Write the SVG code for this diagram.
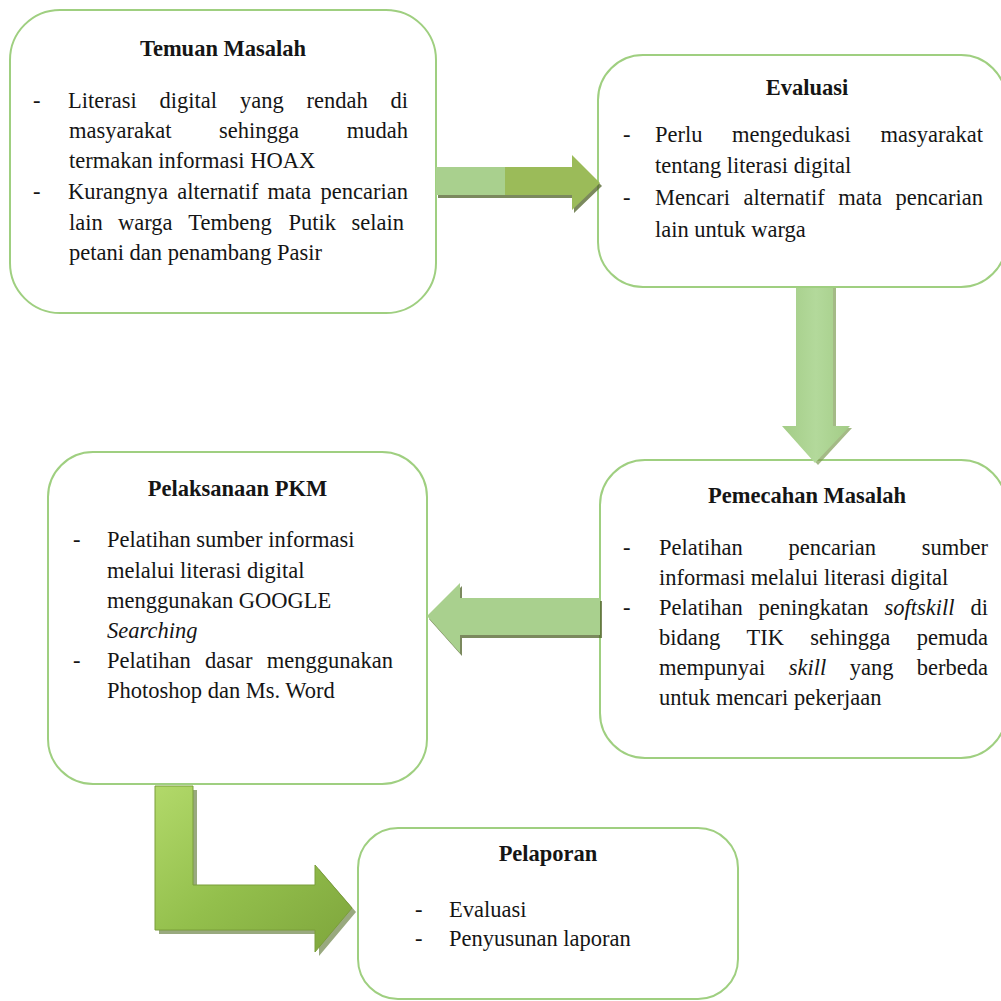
<svg xmlns="http://www.w3.org/2000/svg" width="1001" height="1001" viewBox="0 0 1001 1001">
<defs>
<style>
.box{fill:#fff;stroke:#9fcf80;stroke-width:2}
.t{font-family:'Liberation Serif','Times New Roman',Tinos,'DejaVu Serif',serif;font-size:22.5px;fill:#151515}
.b{font-weight:bold}
.i{font-style:italic}
.m{text-anchor:middle}
.e{text-anchor:end}
.sh{fill:#4f6228;opacity:.75}
</style>
<linearGradient id="gL" x1="0" y1="0" x2="1" y2="1">
<stop offset="0" stop-color="#b2d96a"/>
<stop offset="0.5" stop-color="#93bf4c"/>
<stop offset="1" stop-color="#7ea53c"/>
</linearGradient>
<linearGradient id="gD" x1="0" y1="0" x2="1" y2="0">
<stop offset="0" stop-color="#a3cc86"/>
<stop offset="0.5" stop-color="#b3d99b"/>
<stop offset="1" stop-color="#a3cc86"/>
</linearGradient>
</defs>
<rect width="1001" height="1001" fill="#fff"/>

<g id="node-temuan">
<rect class="box" x="10" y="10" width="426" height="303" rx="50"/>
<text class="t b m" x="223" y="56">Temuan Masalah</text>
<text class="t" x="33" y="108">-</text>
<text class="t" y="108"><tspan x="68">Literasi</tspan><tspan x="159.6">digital</tspan><tspan x="240">yang</tspan><tspan x="306.5">rendah</tspan><tspan class="e" x="408">di</tspan></text>
<text class="t" y="138"><tspan x="69">masyarakat</tspan><tspan x="219.1">sehingga</tspan><tspan class="e" x="408">mudah</tspan></text>
<text class="t" x="69" y="168">termakan informasi HOAX</text>
<text class="t" x="33" y="199">-</text>
<text class="t" y="199"><tspan x="68">Kurangnya</tspan><tspan x="177.2">alternatif</tspan><tspan x="267.6">mata</tspan><tspan class="e" x="408">pencarian</tspan></text>
<text class="t" y="230"><tspan x="69">lain</tspan><tspan x="118">warga</tspan><tspan x="188.3">Tembeng</tspan><tspan x="288.6">Putik</tspan><tspan class="e" x="404">selain</tspan></text>
<text class="t" x="69" y="260">petani dan penambang Pasir</text>
</g>

<g id="node-evaluasi">
<rect class="box" x="598" y="55" width="408" height="232" rx="45"/>
<text class="t b m" x="807" y="95">Evaluasi</text>
<text class="t" x="623" y="142">-</text>
<text class="t" y="142"><tspan x="655">Perlu</tspan><tspan x="732.1">mengedukasi</tspan><tspan class="e" x="983">masyarakat</tspan></text>
<text class="t" x="655" y="173">tentang literasi digital</text>
<text class="t" x="623" y="205">-</text>
<text class="t" y="205"><tspan x="655">Mencari</tspan><tspan x="743.5">alternatif</tspan><tspan x="838.2">mata</tspan><tspan class="e" x="983">pencarian</tspan></text>
<text class="t" x="655" y="237">lain untuk warga</text>
</g>

<g id="node-pemecahan">
<rect class="box" x="600" y="460" width="406" height="298" rx="45"/>
<text class="t b m" x="807" y="503">Pemecahan Masalah</text>
<text class="t" x="623" y="555">-</text>
<text class="t" y="555"><tspan x="659">Pelatihan</tspan><tspan x="788.5">pencarian</tspan><tspan class="e" x="988">sumber</tspan></text>
<text class="t" x="659" y="585">informasi melalui literasi digital</text>
<text class="t" x="623" y="615">-</text>
<text class="t" y="615"><tspan x="659">Pelatihan</tspan><tspan x="758.6">peningkatan</tspan><tspan class="i" x="884.5">softskill</tspan><tspan class="e" x="988">di</tspan></text>
<text class="t" y="645"><tspan x="659">bidang</tspan><tspan x="746.5">TIK</tspan><tspan x="810.3">sehingga</tspan><tspan class="e" x="988">pemuda</tspan></text>
<text class="t" y="675"><tspan x="659">mempunyai</tspan><tspan class="i" x="788.7">skill</tspan><tspan x="849.7">yang</tspan><tspan class="e" x="988">berbeda</tspan></text>
<text class="t" x="659" y="705">untuk mencari pekerjaan</text>
</g>

<g id="node-pelaksanaan">
<rect class="box" x="48" y="452" width="379" height="332" rx="45"/>
<text class="t b m" x="237.5" y="496">Pelaksanaan PKM</text>
<text class="t" x="73" y="547">-</text>
<text class="t" x="107" y="547">Pelatihan sumber informasi</text>
<text class="t" x="107" y="578">melalui literasi digital</text>
<text class="t" x="107" y="608">menggunakan GOOGLE</text>
<text class="t i" x="107" y="638">Searching</text>
<text class="t" x="73" y="668">-</text>
<text class="t" y="668"><tspan x="107">Pelatihan</tspan><tspan x="205">dasar</tspan><tspan class="e" x="393">menggunakan</tspan></text>
<text class="t" x="107" y="698">Photoshop dan Ms. Word</text>
</g>

<g id="node-pelaporan">
<rect class="box" x="358" y="828" width="380" height="171" rx="40"/>
<text class="t b m" x="548" y="861">Pelaporan</text>
<text class="t" x="415" y="917">-</text>
<text class="t" x="449" y="917">Evaluasi</text>
<text class="t" x="415" y="946">-</text>
<text class="t" x="449" y="946">Penyusunan laporan</text>
</g>

<g id="connectors">
<g id="arrow-temuan-evaluasi">
<polygon class="sh" points="438,170 574,170 574,158 602,186 574,213 574,198 438,198"/>
<polygon fill="#9bbb59" points="436,167 572,167 572,155 600,183 572,210 572,195 436,195"/>
<rect x="436" y="167" width="69" height="28" fill="#a9d08e"/>
</g>
<g id="arrow-evaluasi-pemecahan">
<polygon fill="#7d9c52" opacity=".7" points="799,288 836,288 836,428 852,428 818,465 785,428 799,428"/>
<polygon fill="url(#gD)" points="796,288 833,288 833,426 850,426 815,463 782,426 796,426"/>
</g>
<g id="arrow-pemecahan-pelaksanaan">
<polygon class="sh" points="602,601 462,601 462,586 429,619 462,656 462,638 602,638"/>
<polygon fill="#a9d08e" points="600,598 460,598 460,583 427,616 460,653 460,635 600,635"/>
</g>
<g id="arrow-pelaksanaan-pelaporan">
<polygon fill="#55702a" opacity=".6" points="159,790 197,790 197,889 319,889 319,869 356,912 319,956 319,934 159,934"/>
<polygon fill="url(#gL)" stroke="#7a9e3a" stroke-width="1" points="155,786 193,786 193,885 315,885 315,865 352,908 315,952 315,930 155,930"/>
</g>
</g>
</svg>
